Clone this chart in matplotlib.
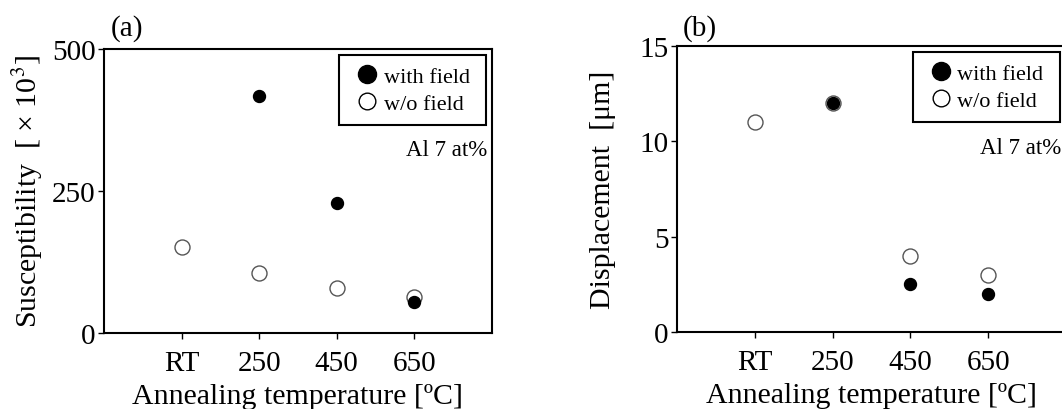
import matplotlib
matplotlib.use("Agg")
import matplotlib.pyplot as plt
from matplotlib.lines import Line2D

plt.rcParams['font.family'] = ['Liberation Serif', 'DejaVu Sans']
plt.rcParams['mathtext.fontset'] = 'stix'

# data
temps = ['RT', '250', '450', '650']
x_pos = [0, 1, 2, 3]

sus_with_x = [1, 2, 3]
sus_with = [418, 228, 55]
sus_wo = [151, 106, 79, 64]

disp_with_x = [1, 2, 3]
disp_with = [12.0, 2.5, 2.0]
disp_wo = [11.0, 12.0, 4.0, 3.0]

fig = plt.figure(figsize=(10.62, 4.10), dpi=100)
ax1 = fig.add_axes([0.0979, 0.1854, 0.3653, 0.6927])
ax2 = fig.add_axes([0.6375, 0.1878, 0.3663, 0.6976])


def draw(ax, wx, wy, oy, ymax, yticks, ylabel, ypad):
    ax.plot(x_pos, oy, 'o', ms=10.8, mfc='white', mec='#555555', mew=1.0, ls='none')
    ax.plot(wx, wy, 'o', ms=8.6, mfc='black', mec='black', ls='none')
    ax.set_xlim(-1, 4)
    ax.set_ylim(0, ymax)
    ax.set_xticks(x_pos)
    ax.set_xticklabels(temps)
    ax.set_yticks(yticks)
    ax.tick_params(axis='x', direction='out', length=4, width=1, labelsize=21, pad=8)
    ax.tick_params(axis='y', direction='out', length=4, width=1, labelsize=21, pad=2)
    for s in ax.spines.values():
        s.set_linewidth(1.5)
    ax.set_xlabel('Annealing temperature [ºC]', fontsize=21.5, labelpad=5)
    ax.set_ylabel(ylabel, fontsize=21.5, labelpad=ypad)
    handles = [
        Line2D([], [], marker='o', ls='none', ms=13, mfc='black', mec='black'),
        Line2D([], [], marker='o', ls='none', ms=12, mfc='white', mec='black', mew=1.0),
    ]
    leg = ax.legend(handles, ['with field ', 'w/o field '], loc='upper left',
                    bbox_to_anchor=(0.606, 0.978), borderaxespad=0, fontsize=16,
                    handletextpad=0.0, handlelength=1.5, fancybox=False,
                    edgecolor='black', framealpha=1, labelspacing=0.28, borderpad=0.5)
    leg.get_frame().set_linewidth(1.5)
    ax.text(0.778, 0.645, 'Al 7 at%', transform=ax.transAxes, fontsize=16.5,
            ha='left', va='center')


draw(ax1, sus_with_x, sus_with, sus_wo, 500, [0, 250, 500],
     'Susceptibility  [ × 10$^3$]', 5)
draw(ax2, disp_with_x, disp_with, disp_wo, 15, [0, 5, 10, 15],
     'Displacement  [μm]', 17)

fig.text(0.104, 0.93, '(a)', fontsize=21, va='center')
fig.text(0.643, 0.93, '(b)', fontsize=21, va='center')

fig.savefig('out.png', dpi=100)
